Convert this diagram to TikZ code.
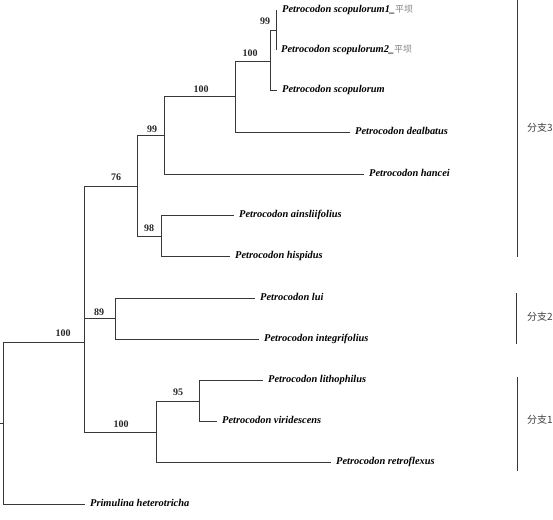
\documentclass[tikz,border=0pt]{standalone}
\usepackage{fontspec}
\setmainfont{Liberation Serif}
\newfontfamily\cjk{Noto Sans CJK SC}
\begin{document}
\begin{tikzpicture}[x=1pt,y=-1pt,
  br/.style={draw=black!78, line width=0.9pt},
  leaf/.style={anchor=west, inner xsep=5pt, inner ysep=0pt,
    font=\fontsize{10.4}{12}\selectfont\bfseries\itshape, text height=7pt, text depth=2pt},
  boot/.style={font=\fontsize{10}{12}\selectfont\bfseries, inner sep=0pt, text=black!85},
  clade/.style={font=\cjk\fontsize{10}{12}\selectfont, text=black!75, inner sep=0pt},
  bar/.style={draw=black!78, line width=0.9pt},
  loc/.style={font=\cjk\fontsize{9}{12}\selectfont\mdseries\upshape, text=black!50}]
\useasboundingbox (0,0) rectangle (553,519);
% leaves
\node[leaf] (scop1) at (277,10) {Petrocodon scopulorum1\_{\cjk\fontsize{9}{12}\selectfont\mdseries\upshape\color{black!50}平坝}};
\node[leaf] (scop2) at (276,50) {Petrocodon scopulorum2\_{\cjk\fontsize{9}{12}\selectfont\mdseries\upshape\color{black!50}平坝}};
\node[leaf] (scop) at (277,90) {Petrocodon scopulorum};
\node[leaf] (dealb) at (350,132) {Petrocodon dealbatus};
\node[leaf] (hancei) at (364,174) {Petrocodon hancei};
\node[leaf] (ains) at (234,215) {Petrocodon ainsliifolius};
\node[leaf] (hisp) at (230,256) {Petrocodon hispidus};
\node[leaf] (lui) at (255,298) {Petrocodon lui};
\node[leaf] (integ) at (259,339) {Petrocodon integrifolius};
\node[leaf] (litho) at (263,380) {Petrocodon lithophilus};
\node[leaf] (virid) at (217,421) {Petrocodon viridescens};
\node[leaf] (retro) at (331,462) {Petrocodon retroflexus};
\node[leaf] (prim) at (85,504) {Primulina heterotricha};
% internal nodes
\coordinate (n99a) at (276,30);
\coordinate (n100a) at (270,61);
\coordinate (n100b) at (235,96);
\coordinate (n99b) at (164,135);
\coordinate (n98) at (161,236);
\coordinate (n76) at (137,186);
\coordinate (n89) at (115,318);
\coordinate (n95) at (199,401);
\coordinate (n100c) at (156,432);
\coordinate (n100d) at (84,342);
\coordinate (root) at (3,423);
\coordinate (stub) at (0,423);
% branches
\draw[br] (n99a) |- (scop1.west);
\draw[br] (n99a) |- (scop2.west);
\draw[br] (n100a) |- (n99a);
\draw[br] (n100a) |- (scop.west);
\draw[br] (n100b) |- (n100a);
\draw[br] (n100b) |- (dealb.west);
\draw[br] (n99b) |- (n100b);
\draw[br] (n99b) |- (hancei.west);
\draw[br] (n98) |- (ains.west);
\draw[br] (n98) |- (hisp.west);
\draw[br] (n76) |- (n99b);
\draw[br] (n76) |- (n98);
\draw[br] (n89) |- (lui.west);
\draw[br] (n89) |- (integ.west);
\draw[br] (n95) |- (litho.west);
\draw[br] (n95) |- (virid.west);
\draw[br] (n100c) |- (n95);
\draw[br] (n100c) |- (retro.west);
\draw[br] (n100d) |- (n76);
\draw[br] (n100d) |- (n89);
\draw[br] (n100d) |- (n100c);
\draw[br] (root) |- (n100d);
\draw[br] (root) |- (prim.west);
\draw[br] (stub) -- (root);
% bootstrap values
\node[boot] (b99a) at (265,21) {99};
\node[boot] (b100a) at (250,53) {100};
\node[boot] (b100b) at (201,89) {100};
\node[boot] (b99b) at (152,129) {99};
\node[boot] (b98) at (149,228) {98};
\node[boot] (b76) at (116,177) {76};
\node[boot] (b89) at (99,312) {89};
\node[boot] (b100c) at (121,424) {100};
\node[boot] (b95) at (178,392) {95};
\node[boot] (b100d) at (63,333) {100};
% clade bars
\coordinate (c3a) at (517,0);
\coordinate (c3b) at (517,257);
\coordinate (c2a) at (516,293);
\coordinate (c2b) at (516,344);
\coordinate (c1a) at (517,377);
\coordinate (c1b) at (517,471);
\draw[bar] (c3a) -- (c3b);
\draw[bar] (c2a) -- (c2b);
\draw[bar] (c1a) -- (c1b);
\node[clade] (l3) at (540,128) {分支3};
\node[clade] (l2) at (540,317) {分支2};
\node[clade] (l1) at (540,420) {分支1};
\end{tikzpicture}
\end{document}
